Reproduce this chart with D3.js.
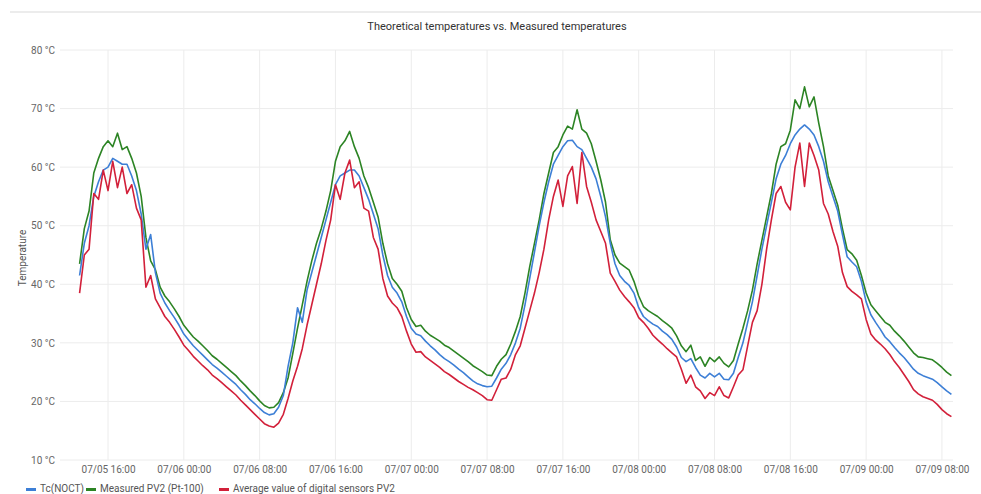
<!DOCTYPE html>
<html><head><meta charset="utf-8">
<script src="https://cdn.jsdelivr.net/npm/d3@7"></script>
<style>
html,body{margin:0;padding:0;background:#fff;}
svg{display:block;font-family:Roboto,"Noto Sans",sans-serif;}
</style></head>
<body><svg id="chart" width="981" height="494"></svg>
<script>
const title = "Theoretical temperatures vs. Measured temperatures";
const yTitle = "Temperature";
const seriesNames = ["Tc(NOCT)", "Measured PV2 (Pt-100)", "Average value of digital sensors PV2"];
const seriesColors = ["#3d7fd6", "#2c8424", "#d2203a"];
const yTicks = [10, 20, 30, 40, 50, 60, 70, 80];
// samples every 30 minutes starting 07/05 13:00
const startTime = new Date(2021, 6, 5, 13, 0);
const stepMinutes = 30;

const measured = [43.5,49.5,52.5,59,61.5,63.5,64.5,63.5,65.8,63,63.5,61.5,59,55,48,44,42.5,39.5,38,37,35.8,34.5,33,32,31,30.3,29.5,28.7,27.8,27.2,26.5,25.8,25.1,24.4,23.5,22.7,21.8,21,20.1,19.3,18.9,19,19.8,21.5,24,28.2,32.5,36.5,40.5,44,47,49.5,52.5,56,61,63.5,64.5,66.1,63.5,61.5,58.5,56.5,54,51.5,47,43.5,41,40,38.8,36,34,32.8,33,32,31.3,30.8,30.3,29.6,29.2,28.6,28,27.4,26.8,26.1,25.6,25.1,24.5,24.4,26,27.2,28,29.8,32,34.5,38.5,43,47,51,55.5,59,62.5,63.5,65.5,67,66.5,69.8,66.5,65.8,64,61,57.8,54,47.6,45,43.6,43,42.4,40.5,38,36.2,35.5,35,34.5,33.8,33.2,32.5,31.2,29.5,28.5,29.6,27,27.6,26,27.5,26.8,27.6,26.5,25.9,27,29.8,32.5,35.5,39,43.5,47.5,51.5,55.5,60.5,63.5,64,66.3,71.5,70,73.7,70.3,72,67.5,63.5,58.5,56,53.5,49.5,45.9,45.2,44.1,41.5,38.5,36.5,35.5,34.5,33.5,33,32,31.2,30.3,29.3,28.3,27.6,27.5,27.3,27.1,26.5,25.8,25,24.4];

const tcNoct = [41.5,47,50,55,57.5,59.5,60,61.5,61,60.5,60.5,58.5,56,52,46,48.5,42,38.5,36.8,35.5,34.3,33,31.5,30.5,29.5,28.7,27.9,27.1,26.3,25.7,25,24.3,23.6,22.9,22,21.2,20.3,19.6,18.8,18.1,17.7,17.9,19,21,26,30,36,33.5,39,42,45,48,51,54,57,58.5,59,59.5,59.5,58.5,56.5,54.5,52,49.5,45,41.5,39.5,38.5,37,34.5,32.5,31.5,31.2,30.3,29.5,28.8,28,27.3,26.8,26.2,25.5,24.9,24.2,23.5,23,22.7,22.5,22.6,24,25.5,26.5,28,30,32.5,36.5,41,45.5,50,54,57.5,60.5,62,63.5,64.5,64.6,63.5,63,61.5,60,58,55,51.5,47,43.5,41.5,40.5,39.8,38.5,36,34.5,33.8,33.2,32.8,32,31.4,30.6,29.3,27.5,26.8,27.3,25.8,24.5,24,24.8,24.2,24.8,23.8,23.7,24.8,27.5,30,33.5,37,41.5,46,50,54,58,60.5,62,64,65.5,66.5,67.2,66.5,65.5,63.5,61,57.5,55,52.5,48.5,44.7,43.8,43,40.5,37,34.8,33.5,32.3,31,30.2,29.2,28.3,27.5,26.5,25.5,24.8,24.4,24.1,23.8,23.2,22.5,21.8,21.2];

const digitalAvg = [38.5,45,46,55.5,54.5,59.5,56,61,56.5,60,55.5,57,53,51,39.5,41.5,37.5,36,34.5,33.5,32.3,31,29.6,28.7,27.7,26.9,26.1,25.4,24.5,23.9,23.2,22.5,21.8,21.1,20.2,19.4,18.6,17.8,17,16.2,15.8,15.6,16.3,17.8,20.5,23.5,26,29,33,36.5,40,43.5,47.5,51,57,54.5,59,61.2,56.5,57.5,53,52.5,48,46,41,38,36.8,36,34.5,32,29.8,28.4,28.5,27.6,27,26.4,25.8,25.1,24.6,24,23.4,22.9,22.4,22,21.5,21,20.3,20.2,22,23.8,24,25.5,28,29.5,32.5,35.5,38.5,42,46,51,55,57.8,53.3,58.5,60.1,53.8,62.5,56.7,54,51,49,47,41.9,40.5,39,37.9,37,36,34.3,33.5,32.5,31.3,30.5,29.8,29,28.3,27.6,25.5,23.1,24.5,22.5,21.8,20.5,21.5,21,22.5,21,20.6,22.5,24.5,25.4,29.5,33.5,35.5,40,46,51,55.5,56.7,54,52.7,60,64.1,56.7,64.1,62,59.5,53.8,52,49,46.5,42,39.6,38.8,38.2,37.5,34,31.5,30.5,29.8,29,28,26.8,25.8,24.6,23.4,22,21.3,20.8,20.5,20.2,19.5,18.6,17.9,17.4];

(function () {
const svg = d3.select("#chart");
const W = 981;
const mL = 60, mR = 953, mT = 50, mB = 460;

const times = measured.map((_, i) => new Date(startTime.getTime() + i * stepMinutes * 60000));
const x = d3.scaleTime()
  .domain([new Date(2021, 6, 5, 10, 56), new Date(2021, 6, 9, 9, 10)])
  .range([mL, mR]);
const y = d3.scaleLinear().domain([10, 80]).range([mB, mT]);

svg.append("line").attr("x1", 10).attr("x2", W).attr("y1", 12).attr("y2", 12)
  .attr("stroke", "#e6e6e6").attr("stroke-width", 1.5);

svg.append("text").attr("x", 497).attr("y", 30).attr("text-anchor", "middle")
  .attr("font-size", 11).attr("fill", "#333").text(title);

const xTicks = x.ticks(d3.timeHour.every(8));
svg.append("g").selectAll("line").data(xTicks).join("line")
  .attr("x1", d => x(d)).attr("x2", d => x(d)).attr("y1", mT).attr("y2", mB)
  .attr("stroke", "#ececec").attr("stroke-width", 1);
svg.append("g").selectAll("line").data(yTicks).join("line")
  .attr("x1", mL).attr("x2", mR).attr("y1", d => y(d)).attr("y2", d => y(d))
  .attr("stroke", "#ececec").attr("stroke-width", 1);

const yAxis = d3.axisLeft(y).tickValues(yTicks).tickSize(0).tickPadding(5).tickFormat(d => d + " °C");
const gy = svg.append("g").attr("transform", `translate(${mL},0)`).call(yAxis);
gy.select(".domain").remove();
gy.selectAll("text").attr("font-size", 10).attr("fill", "#666").attr("font-family", "Roboto, sans-serif");

const xAxis = d3.axisBottom(x).tickValues(xTicks).tickSize(0).tickPadding(6).tickFormat(d3.timeFormat("%m/%d %H:%M"));
const gx = svg.append("g").attr("transform", `translate(0,${mB})`).call(xAxis);
gx.select(".domain").remove();
gx.selectAll("text").attr("font-size", 10).attr("fill", "#666").attr("font-family", "Roboto, sans-serif");

svg.append("text").attr("transform", `translate(26,258) rotate(-90)`).attr("text-anchor", "middle")
  .attr("font-size", 10).attr("fill", "#555").text(yTitle);

const line = d3.line().x((d, i) => x(times[i])).y(d => y(d));
const drawOrder = [[measured, 1], [tcNoct, 0], [digitalAvg, 2]];
drawOrder.forEach(([vals, ci]) => {
  svg.append("path").datum(vals).attr("d", line).attr("fill", "none")
    .attr("stroke", seriesColors[ci]).attr("stroke-width", 1.6).attr("stroke-linejoin", "round");
});

const legendX = [26, 86, 219];
const lg = svg.append("g");
seriesNames.forEach((name, i) => {
  lg.append("rect").attr("x", legendX[i]).attr("y", 488).attr("width", 10).attr("height", 3)
    .attr("fill", seriesColors[i]);
  lg.append("text").attr("x", legendX[i] + 14).attr("y", 492).attr("font-size", 10)
    .attr("fill", "#555").text(name);
});
})();
</script></body></html>
